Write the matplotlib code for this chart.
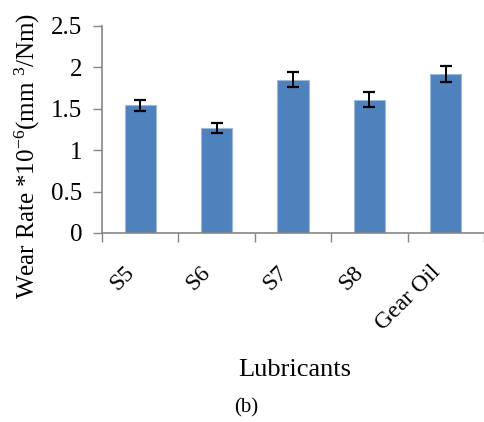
import matplotlib
matplotlib.use("Agg")
import matplotlib.pyplot as plt
from matplotlib.ticker import FixedLocator, NullFormatter
from matplotlib.transforms import offset_copy

plt.rcParams['font.family'] = ['Liberation Serif', 'DejaVu Serif']
plt.rcParams['mathtext.fontset'] = 'custom'
plt.rcParams['mathtext.rm'] = 'Liberation Serif'
plt.rcParams['mathtext.it'] = 'Liberation Serif:italic'

lubricants = ["S5", "S6", "S7", "S8", "Gear Oil"]
wear_rate = [1.54, 1.27, 1.85, 1.61, 1.92]
wear_err = [0.07, 0.06, 0.09, 0.09, 0.10]
yticks = [0, 0.5, 1, 1.5, 2, 2.5]
ytick_labels = ["0", "0.5", "1", "1.5", "2", "2.5"]

fig = plt.figure(figsize=(4.84, 4.22), dpi=100)
ax = fig.add_axes([102 / 484, 0.448, 1 - 102 / 484, 0.4905])

x = list(range(len(lubricants)))
ax.bar(x, wear_rate, width=0.41, color="#4F81BD", edgecolor="#9DB8DB",
       linewidth=0.8, zorder=2)
ax.errorbar(x, wear_rate, yerr=wear_err, fmt="none", ecolor="black",
            elinewidth=1.4, capsize=4.5, capthick=1.6, zorder=3)

ax.set_xlim(-0.5, len(lubricants) - 0.5)
ax.set_ylim(0, 2.5)

# tick marks sit on the category boundaries
ax.xaxis.set_major_locator(FixedLocator([i - 0.5 for i in range(len(lubricants) + 1)]))
ax.xaxis.set_major_formatter(NullFormatter())
ax.tick_params(axis="x", which="major", direction="out", length=6.5,
               width=1, color="#868686")

# rotated category names, right end placed just under each bar
label_tr = offset_copy(ax.get_xaxis_transform(), fig=fig, x=-9, y=-36,
                       units="dots")
for xi, name in zip(x, lubricants):
    ax.text(xi, 0, name, transform=label_tr, rotation=45, ha="right",
            va="center", rotation_mode="anchor", fontsize=17, clip_on=False)

ax.set_yticks(yticks)
ax.set_yticklabels(ytick_labels, fontsize=18)
ax.tick_params(axis="y", direction="out", length=6.5, width=1, color="#868686", pad=7.5)

for side in ("top", "right"):
    ax.spines[side].set_visible(False)
for side in ("left", "bottom"):
    ax.spines[side].set_color("#868686")
    ax.spines[side].set_linewidth(1.2)

fig.text(27 / 484, 1 - 156 / 422, "Wear Rate *10$^{-6}$(mm $^{3}$/Nm)",
         rotation=90, ha="center", va="center", fontsize=18)
fig.text(295 / 484, 1 - 370 / 422, "Lubricants", ha="center", va="center",
         fontsize=19)
fig.text(246 / 484, 1 - 408 / 422, "(b)", ha="center", va="center",
         fontsize=15)

fig.savefig("out.png", dpi=100)
